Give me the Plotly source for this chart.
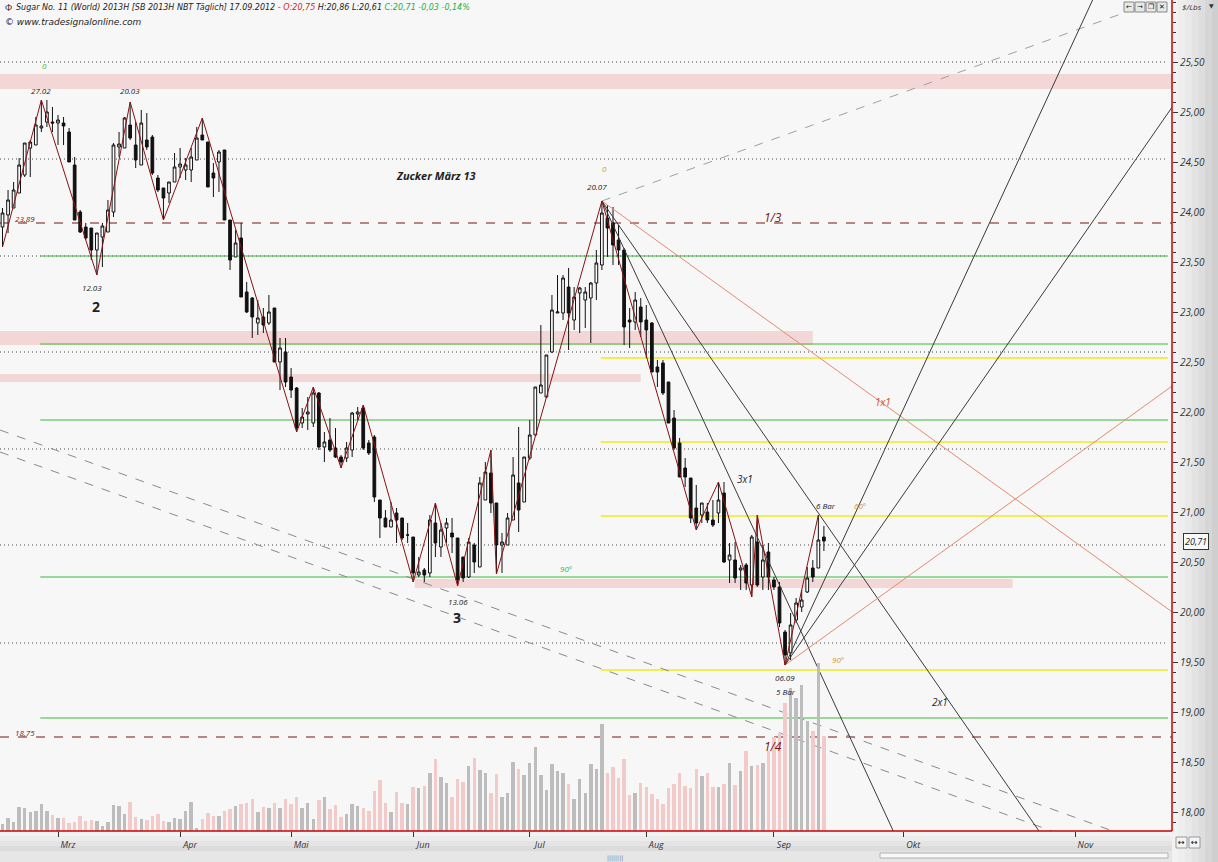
import plotly.graph_objects as go

# ---------------- DATA ----------------
# daily bars, index 0 = 1 Mar 2012 (trading-day index), first bar = -10 (15 Feb 2012)
first_bar = -10
open_ = [23.85, 23.97, 24.04, 24.19, 24.37, 24.64, 24.67, 24.84, 24.90, 24.90,
         24.89, 24.89, 24.80, 24.47, 24.00, 23.85, 23.84, 23.62, 23.75, 23.80,
         24.00, 24.65, 24.64, 24.87, 24.67, 24.47, 24.72, 24.75, 24.34, 24.24,
         24.19, 24.30, 24.45, 24.42, 24.42, 24.52, 24.77, 24.70, 24.39, 24.50,
         24.62, 23.92, 23.55, 23.74, 23.20, 23.14, 22.89, 22.95, 22.89, 23.04,
         22.50, 22.60, 22.35, 22.24, 21.89, 21.98, 21.89, 22.19, 21.65, 21.72,
         21.64, 21.55, 21.54, 21.62, 21.98, 22.04, 21.69, 21.75, 21.12, 20.94,
         20.85, 20.99, 20.94, 20.77, 20.75, 20.37, 20.42, 20.39, 20.89, 20.65,
         20.84, 20.79, 20.74, 20.55, 20.35, 20.67, 20.45, 21.12, 21.39, 21.09,
         20.67, 20.67, 20.92, 21.29, 21.10, 21.54, 21.77, 22.19, 22.15, 22.60,
         22.99, 22.99, 23.25, 22.92, 23.19, 23.12, 23.14, 23.29, 23.47, 23.94,
         23.89, 23.72, 23.62, 22.92, 22.90, 23.05, 22.92, 22.89, 22.45, 22.49,
         22.30, 21.94, 21.69, 21.44, 21.34, 21.04, 20.97, 21.00, 20.92, 20.99,
         21.19, 20.52, 20.52, 20.42, 20.47, 20.27, 20.70, 20.35, 20.60, 20.32,
         20.25, 19.80, 19.59, 19.92, 20.05, 20.20, 20.44, 20.44, 20.75]
high = [24.04, 24.22, 24.30, 24.54, 24.69, 24.72, 24.95, 25.12, 25.12, 25.05,
        24.97, 24.95, 24.84, 24.55, 24.02, 23.89, 23.84, 23.79, 23.89, 24.12,
        24.69, 24.80, 24.95, 25.10, 24.90, 25.02, 24.99, 24.77, 24.37, 24.24,
        24.30, 24.59, 24.64, 24.54, 24.64, 24.85, 24.94, 24.70, 24.49, 24.62,
        24.62, 23.92, 23.82, 23.89, 23.30, 23.15, 23.12, 23.04, 23.17, 23.04,
        22.74, 22.74, 22.44, 22.25, 22.04, 22.15, 22.25, 22.20, 21.80, 21.94,
        21.84, 21.57, 21.70, 22.00, 22.05, 22.07, 21.72, 21.77, 21.12, 21.02,
        21.10, 21.04, 20.94, 20.89, 20.75, 20.55, 20.44, 20.97, 21.09, 20.89,
        20.94, 20.94, 20.74, 20.55, 20.74, 20.69, 21.35, 21.50, 21.62, 21.09,
        20.79, 20.99, 21.55, 21.85, 21.55, 21.92, 22.25, 22.87, 22.57, 23.17,
        23.37, 23.37, 23.44, 23.25, 23.25, 23.25, 23.30, 23.62, 24.11, 24.07,
        24.05, 23.87, 23.64, 23.04, 23.20, 23.14, 23.07, 22.90, 22.52, 22.52,
        22.30, 22.02, 21.74, 21.54, 21.34, 21.27, 21.09, 21.09, 21.12, 21.30,
        21.30, 20.69, 20.70, 20.47, 20.49, 20.77, 20.97, 20.67, 20.69, 20.35,
        20.30, 19.82, 19.99, 20.14, 20.22, 20.45, 20.52, 20.97, 20.86]
low = [23.65, 23.79, 24.04, 24.19, 24.35, 24.35, 24.67, 24.80, 24.85, 24.80,
       24.67, 24.67, 24.50, 23.92, 23.79, 23.72, 23.52, 23.37, 23.45, 23.80,
       23.95, 24.55, 24.64, 24.72, 24.44, 24.47, 24.62, 24.37, 24.20, 23.92,
       24.09, 24.30, 24.34, 24.32, 24.30, 24.52, 24.72, 24.25, 24.15, 24.20,
       23.92, 23.42, 23.55, 23.15, 22.99, 22.74, 22.77, 22.79, 22.87, 22.50,
       22.22, 22.25, 22.14, 21.80, 21.84, 21.82, 21.85, 21.62, 21.50, 21.60,
       21.54, 21.44, 21.50, 21.55, 21.92, 21.62, 21.57, 21.10, 20.74, 20.85,
       20.85, 20.69, 20.72, 20.69, 20.30, 20.35, 20.30, 20.35, 20.55, 20.55,
       20.69, 20.59, 20.26, 20.30, 20.34, 20.39, 20.45, 21.12, 20.99, 20.38,
       20.39, 20.67, 20.92, 20.80, 21.10, 21.52, 21.77, 22.19, 22.14, 22.59,
       22.99, 22.92, 22.62, 22.82, 22.79, 22.84, 22.69, 23.12, 23.42, 23.55,
       23.47, 23.47, 22.67, 22.64, 22.82, 22.75, 22.54, 22.40, 22.25, 22.17,
       21.89, 21.62, 21.35, 21.25, 20.89, 20.82, 20.89, 20.89, 20.85, 20.89,
       20.49, 20.29, 20.29, 20.22, 20.22, 20.15, 20.25, 20.22, 20.22, 20.22,
       19.85, 19.47, 19.52, 19.89, 20.00, 20.19, 20.30, 20.44, 20.61]
close = [23.99, 24.12, 24.22, 24.47, 24.69, 24.70, 24.87, 24.86, 25.00, 24.89,
         24.92, 24.86, 24.50, 23.92, 23.80, 23.74, 23.62, 23.79, 23.86, 24.02,
         24.67, 24.68, 24.94, 24.74, 24.52, 24.89, 24.65, 24.39, 24.22, 24.14,
         24.30, 24.45, 24.48, 24.47, 24.55, 24.74, 24.72, 24.25, 24.34, 24.60,
         23.92, 23.52, 23.69, 23.15, 23.00, 22.95, 22.94, 22.87, 23.00, 22.50,
         22.64, 22.30, 22.22, 21.84, 21.95, 22.00, 22.19, 21.65, 21.70, 21.62,
         21.55, 21.50, 21.64, 21.99, 22.00, 21.64, 21.59, 21.15, 20.94, 20.85,
         20.92, 20.92, 20.74, 20.77, 20.39, 20.40, 20.37, 20.92, 20.69, 20.82,
         20.89, 20.75, 20.32, 20.34, 20.70, 20.50, 21.29, 21.40, 21.09, 20.67,
         20.70, 20.94, 21.37, 21.02, 21.55, 21.77, 22.25, 22.27, 22.57, 23.02,
         23.00, 23.34, 22.99, 23.15, 23.24, 23.20, 23.29, 23.49, 23.99, 23.84,
         23.67, 23.62, 22.85, 22.90, 23.12, 22.90, 22.82, 22.40, 22.40, 22.19,
         21.89, 21.64, 21.35, 21.35, 20.94, 20.89, 21.09, 20.92, 20.87, 21.12,
         20.50, 20.57, 20.34, 20.44, 20.29, 20.75, 20.27, 20.52, 20.35, 20.25,
         19.89, 19.57, 19.87, 20.09, 20.12, 20.34, 20.35, 20.72, 20.71]
volume = [7, 13, 9, 24, 23, 19, 20, 27, 20, 16,
          13, 13, 8, 9, 15, 10, 11, 10, 5, 9,
          26, 25, 17, 29, 14, 12, 11, 15, 17, 10,
          9, 13, 12, 20, 29, 3, 12, 18, 15, 15,
          20, 22, 25, 27, 28, 32, 19, 24, 23, 28,
          23, 32, 27, 34, 23, 28, 12, 31, 34, 22,
          26, 14, 17, 27, 25, 23, 20, 40, 51, 28,
          19, 39, 28, 27, 44, 43, 45, 58, 72, 54,
          48, 34, 52, 49, 65, 73, 61, 58, 38, 57,
          34, 38, 69, 62, 56, 68, 84, 56, 41, 67,
          60, 58, 47, 32, 52, 38, 67, 62, 107, 58,
          64, 53, 72, 36, 38, 48, 44, 37, 32, 27,
          43, 47, 58, 45, 43, 62, 55, 58, 44, 44,
          47, 68, 46, 60, 80, 65, 66, 68, 80, 94,
          98, 128, 143, 133, 146, 110, 100, 168, 95]

month_labels = ["Mrz", "Apr", "Mai", "Jun", "Jul", "Aug", "Sep", "Okt", "Nov"]
month_pos = [0, 22, 42, 64, 85, 106, 129, 152.3, 183.3]
price_ticks = [18.0, 18.5, 19.0, 19.5, 20.0, 20.5, 21.0, 21.5, 22.0, 22.5, 23.0, 23.5, 24.0, 24.5, 25.0, 25.5]

zz_idx = [-10, -3, 7, 13, 19, 26, 43, 46, 51, 55, 64, 68, 72, 78, 79, 98, 115, 119, 125, 126, 131, 137]
zz_price = [23.65, 25.12, 23.37, 25.10, 23.92, 24.94, 21.80, 22.25, 21.44, 22.07, 20.30, 21.09,
            20.26, 21.62, 20.38, 24.11, 20.82, 21.30, 20.15, 20.97, 19.47, 20.97]

dotted_levels = [25.50, 24.53, 23.56, 22.60, 21.63, 20.67, 19.69]
green_levels = [23.56, 22.68, 21.92, 20.35, 18.94]
yellow_levels = [22.54, 21.70, 20.96, 19.42]
red_levels = [23.89, 18.75]
band_lo = [25.23, 22.67, 22.30, 20.24]
band_hi = [25.38, 22.81, 22.38, 20.33]

top_pivot = (98, 24.11)
low_pivot = (131, 19.47)
fan_down_slopes = [-0.04, -0.08, -0.12]     # 1x1, 2x1, 3x1 from top
fan_up_slopes = [0.04, 0.08, 0.12]          # from low
up_from_top_slope = 0.02
channel_start_price = [21.82, 21.60]
channel_slope = -0.02

# ---------------- FIGURE ----------------
XMIN, XMAX = -10.45, 200.72
YMIN, YMAX = 17.81, 26.12
FONT = "Open Sans, DejaVu Sans, sans-serif"
WIDE = "DejaVu Sans, sans-serif"

xs = list(range(first_bar, first_bar + len(close)))
vol_colors = ["#bdbdbd" if c >= o else "#f3caca" for o, c in zip(open_, close)]

fig = go.Figure()

fig.add_trace(go.Bar(x=xs, y=volume, yaxis="y2", marker=dict(color=vol_colors, line=dict(width=0)),
                     width=0.62, showlegend=False, hoverinfo="skip"))

# channel dashed lines
for p0 in channel_start_price:
    fig.add_trace(go.Scatter(x=[XMIN, XMAX], y=[p0, p0 + channel_slope * (XMAX - XMIN)], mode="lines",
                             line=dict(color="#8a8a8a", width=1, dash="dash"), showlegend=False, hoverinfo="skip"))

# gann fan from top
tx, ty = top_pivot
fig.add_trace(go.Scatter(x=[tx, XMAX], y=[ty, ty + up_from_top_slope * (XMAX - tx)], mode="lines",
                         line=dict(color="#a0a0a0", width=1, dash="dash"), showlegend=False, hoverinfo="skip"))
for s in fan_down_slopes:
    col = "#e58a6e" if s == -0.04 else "#3a3a3a"
    fig.add_trace(go.Scatter(x=[tx, XMAX], y=[ty, ty + s * (XMAX - tx)], mode="lines",
                             line=dict(color=col, width=1), showlegend=False, hoverinfo="skip"))
lx, ly = low_pivot
for s in fan_up_slopes:
    col = "#e58a6e" if s == 0.04 else "#3a3a3a"
    fig.add_trace(go.Scatter(x=[lx, XMAX], y=[ly, ly + s * (XMAX - lx)], mode="lines",
                             line=dict(color=col, width=1), showlegend=False, hoverinfo="skip"))

fig.add_trace(go.Candlestick(x=xs, open=open_, high=high, low=low, close=close,
                             increasing=dict(line=dict(color="#111111", width=1), fillcolor="#ffffff"),
                             decreasing=dict(line=dict(color="#111111", width=1), fillcolor="#111111"),
                             whiskerwidth=0, showlegend=False, hoverinfo="skip"))

fig.add_trace(go.Scatter(x=zz_idx, y=zz_price, mode="lines", line=dict(color="#8b1010", width=1),
                         showlegend=False, hoverinfo="skip"))

shapes = []
band_x = [(XMIN, XMAX), (XMIN, 136.0), (XMIN, 105.0), (64.3, 172.0)]
for lo, hi, (x0, x1) in zip(band_lo, band_hi, band_x):
    shapes.append(dict(type="rect", xref="x", yref="y", x0=x0, x1=x1, y0=lo, y1=hi,
                       fillcolor="rgba(240,190,190,0.55)", line=dict(width=0), layer="below"))
for lv in dotted_levels:
    shapes.append(dict(type="line", xref="x", yref="y", x0=XMIN, x1=200.0, y0=lv, y1=lv,
                       line=dict(color="#444444", width=1, dash="1px,3px"), layer="below"))
for lv in green_levels:
    shapes.append(dict(type="line", xref="x", yref="y", x0=-3.2, x1=200.0, y0=lv, y1=lv,
                       line=dict(color="#3cb83c", width=1), layer="below"))
for lv in yellow_levels:
    shapes.append(dict(type="line", xref="x", yref="y", x0=97.8, x1=200.0, y0=lv, y1=lv,
                       line=dict(color="#ecec1a", width=1.5), layer="below"))
for lv in red_levels:
    shapes.append(dict(type="line", xref="x", yref="y", x0=XMIN, x1=XMAX, y0=lv, y1=lv,
                       line=dict(color="#7a1414", width=1.2, dash="dash"), layer="below"))

# margin backgrounds (axis panels)
W = 1172.0
H = 831.0
grays = ["#f2f2f2", "#eeeeee", "#e9e9e9", "#e3e3e3", "#dddddd", "#d6d6d6", "#cfcfcf"]
n = len(grays)
for k, g in enumerate(grays):
    shapes.append(dict(type="rect", xref="paper", yref="paper", x0=1 + k * 46 / n / W, x1=1 + (k + 1) * 46 / n / W,
                       y0=-31 / H, y1=1, fillcolor=g, line=dict(width=0), layer="below"))
bgr = ["#f3f3f3", "#ececec", "#e4e4e4", "#dcdcdc"]
for k, g in enumerate(bgr):
    shapes.append(dict(type="rect", xref="paper", yref="paper", x0=0, x1=1,
                       y0=-(k + 1) * 20 / len(bgr) / H, y1=-k * 20 / len(bgr) / H,
                       fillcolor=g, line=dict(width=0), layer="below"))
shapes.append(dict(type="rect", xref="paper", yref="paper", x0=0, x1=1, y0=-31 / H, y1=-20 / H,
                   fillcolor="#e6e6e6", line=dict(width=0), layer="below"))
shapes.append(dict(type="rect", xref="paper", yref="paper", x0=880 / W, x1=1168 / W, y0=-27 / H, y1=-22 / H,
                   fillcolor="#f8f8f8", line=dict(color="#b0b0b0", width=1), layer="below"))
# nav buttons (top right) and zoom buttons (bottom right)
for k in range(4):
    shapes.append(dict(type="rect", xref="paper", yref="paper", x0=(1124 + k * 11) / W, x1=(1134 + k * 11) / W,
                       y0=1 - 12 / H, y1=1 - 2 / H, fillcolor="#e8e8e8", line=dict(color="#888888", width=1)))
for k in range(2):
    shapes.append(dict(type="rect", xref="paper", yref="paper", x0=(1176 + k * 13) / W, x1=(1187 + k * 13) / W,
                       y0=-17 / H, y1=-6 / H, fillcolor="#f4f4f4", line=dict(color="#999999", width=1)))
# plot borders
shapes.append(dict(type="line", xref="paper", yref="paper", x0=1, x1=1, y0=0, y1=1,
                   line=dict(color="#cc0000", width=1.5)))
shapes.append(dict(type="line", xref="paper", yref="paper", x0=0, x1=1, y0=0, y1=0,
                   line=dict(color="#cc0000", width=1.5)))


def ann(x, y, text, color="#222222", size=9, bold=False, italic=True, xanchor="center"):
    return dict(x=x, y=y, xref="x", yref="y", text=text, showarrow=False, xanchor=xanchor, yanchor="middle",
                font=dict(family=FONT, size=size, color=color, weight="bold" if bold else "normal",
                          style="italic" if italic else "normal"))


annotations = [
    ann(-3, 25.22, "27.02", size=8),
    ann(13, 25.22, "20.03", size=8),
    ann(-2.5, 25.47, "0", color="#3cb83c", size=8),
    ann(6.1, 23.25, "12.03", size=8),
    ann(6.8, 23.06, "2", size=14, bold=True, italic=False),
    ann(68.1, 24.37, "Zucker März 13", size=11, bold=True),
    ann(98.4, 24.44, "0", color="#d09a30", size=8),
    ann(97.1, 24.26, "20.07", size=8),
    ann(128.8, 23.95, "1/3", color="#7a1414", size=12),
    ann(148.6, 22.10, "1x1", color="#d0502a", size=10),
    ann(123.8, 21.33, "3x1", size=10),
    ann(138.3, 21.07, "6 Bar", size=8),
    ann(144.5, 21.07, "60°", color="#d09a30", size=8),
    ann(91.5, 20.44, "90°", color="#3cb83c", size=8),
    ann(72.1, 20.11, "13.06", size=8),
    ann(71.9, 19.95, "3", size=14, bold=True, italic=False),
    ann(140.5, 19.53, "90°", color="#d09a30", size=8),
    ann(131.0, 19.35, "06.09", size=8),
    ann(131.2, 19.21, "5 Bar", size=8),
    ann(158.9, 19.10, "2x1", size=10),
    ann(128.8, 18.66, "1/4", color="#7a1414", size=12),
    ann(-5.9, 23.94, "23,89", color="#7a1414", size=8),
    ann(-5.9, 18.80, "18,75", color="#7a1414", size=8),
]
title_text = ("Sugar No. 11 (World) 2013H [SB 2013H NBT Täglich] 17.09.2012 - "
              "<span style='color:#e02020'>O:20,75</span> H:20,86 L:20,61 "
              "<span style='color:#20b040'>C:20,71 -0,03 -0,14%</span>")
annotations += [
    dict(x=14 / W, y=1 - 8 / H, xref="paper", yref="paper", text=title_text, showarrow=False,
         xanchor="left", yanchor="middle", font=dict(family=WIDE, size=8, color="#222222", style="italic")),
    dict(x=3 / W, y=1 - 8 / H, xref="paper", yref="paper", text="Ф", showarrow=False,
         xanchor="left", yanchor="middle", font=dict(family=FONT, size=9, color="#222222")),
    dict(x=3 / W, y=1 - 22 / H, xref="paper", yref="paper", text="© www.tradesignalonline.com", showarrow=False,
         xanchor="left", yanchor="middle", font=dict(family=WIDE, size=9, color="#222222", style="italic")),
    dict(x=1180 / W, y=1 - 7 / H, xref="paper", yref="paper", text="$/Lbs", showarrow=False,
         xanchor="left", yanchor="middle", font=dict(family=FONT, size=8, color="#333333", style="italic")),
    dict(x=1211 / W, y=1 - 6 / H, xref="paper", yref="paper", text="▼", showarrow=False,
         xanchor="center", yanchor="middle", font=dict(family=FONT, size=6, color="#333333")),
    dict(x=1196 / W, y=20.71, xref="paper", yref="y", text="20,71", showarrow=False,
         xanchor="center", yanchor="middle", bgcolor="#f8f8f8", bordercolor="#333333", borderwidth=1, borderpad=1,
         font=dict(family=FONT, size=9, color="#222222", style="italic")),
    dict(x=615 / W, y=-27 / H, xref="paper", yref="paper", text="||||||||", showarrow=False,
         xanchor="center", yanchor="middle", font=dict(family=WIDE, size=6, color="#777777")),
]
for k, t in enumerate(["←", "→", "❐", "✕"]):
    annotations.append(dict(x=(1129 + k * 11) / W, y=1 - 7 / H, xref="paper", yref="paper", text=t, showarrow=False,
                            xanchor="center", yanchor="middle", font=dict(family="DejaVu Sans", size=7, color="#111")))
for k in range(2):
    annotations.append(dict(x=(1181.5 + k * 13) / W, y=-11.5 / H, xref="paper", yref="paper", text="↔",
                            showarrow=False, xanchor="center", yanchor="middle",
                            font=dict(family="DejaVu Sans", size=8, color="#111")))

fig.update_layout(
    width=1218, height=862,
    margin=dict(l=0, r=46, t=0, b=31),
    paper_bgcolor="#ececec", plot_bgcolor="#f7f7f7",
    separators=",.",
    showlegend=False,
    shapes=shapes,
    annotations=annotations,
    bargap=0,
    xaxis=dict(range=[XMIN, XMAX], showgrid=False, zeroline=False, rangeslider=dict(visible=False),
               tickmode="array", tickvals=month_pos, ticktext=month_labels, ticks="outside", ticklen=5,
               tickcolor="#333333", ticklabelshift=10,
               tickfont=dict(family=FONT, size=9, color="#333333", style="italic"),
               showline=False, fixedrange=True),
    yaxis=dict(range=[YMIN, YMAX], side="right", showgrid=False, zeroline=False,
               tickmode="array", tickvals=price_ticks,
               tickformat=".2f", ticks="outside", ticklen=5, tickcolor="#333333",
               minor=dict(tickmode="linear", tick0=0, dtick=0.1, ticks="outside", ticklen=3, tickcolor="#333333"),
               tickfont=dict(family=FONT, size=10, color="#333333", style="italic"),
               showline=False, fixedrange=True),
    yaxis2=dict(overlaying="y", range=[0, 831], visible=False, fixedrange=True),
)

fig.write_html("out.html", config={"displayModeBar": False},
               post_script="document.body.style.margin='0';document.body.style.overflow='hidden';")
